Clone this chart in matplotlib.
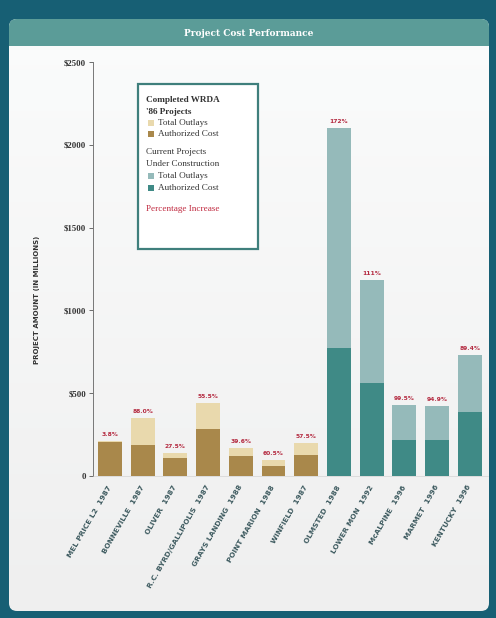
import matplotlib
matplotlib.use("Agg")
import matplotlib.pyplot as plt
from matplotlib.patches import FancyBboxPatch, Rectangle
from matplotlib.colors import LinearSegmentedColormap
import numpy as np

projects = ["MEL PRICE L2  1987", "BONNEVILLE  1987", "OLIVER  1987",
            "R.C. BYRD/GALLIPOLIS  1987", "GRAYS LANDING  1988", "POINT MARION  1988",
            "WINFIELD  1987", "OLMSTED  1988", "LOWER MON  1992", "McALPINE  1996",
            "MARMET  1996", "KENTUCKY  1996"]
authorized = [205, 187, 109, 283, 121, 60, 127, 773, 562, 215, 217, 386]
total_outlays = [213, 352, 139, 440, 169, 97, 200, 2101, 1183, 429, 423, 731]
pct_labels = ["3.8%", "88.0%", "27.5%", "55.5%", "39.6%", "60.5%", "57.5%",
              "172%", "111%", "99.5%", "94.9%", "89.4%"]
completed = [True] * 7 + [False] * 5
yticks = [0, 500, 1000, 1500, 2000, 2500]
ytick_labels = ["0", "$500", "$1000", "$1500", "$2000", "$2500"]

W, H = 496, 618
fig = plt.figure(figsize=(W / 100, H / 100), dpi=100)
fig.patch.set_facecolor("#175f74")

# panel
bg = fig.add_axes([0, 0, 1, 1])
bg.set_xlim(0, W); bg.set_ylim(H, 0); bg.axis("off")
panel = FancyBboxPatch((9, 19), 480, 592, boxstyle="round,pad=0,rounding_size=8",
                       fc="none", ec="none")
bg.add_patch(panel)
cmap = LinearSegmentedColormap.from_list("g", ["#fbfcfc", "#efefef"])
grad = np.linspace(0, 1, 256).reshape(-1, 1)
im = bg.imshow(grad, cmap=cmap, extent=(9, 489, 611, 19), aspect="auto", zorder=0)
im.set_clip_path(panel)
bg.set_xlim(0, W); bg.set_ylim(H, 0)
bg.add_patch(FancyBboxPatch((9, 19), 480, 27, boxstyle="round,pad=0,rounding_size=8",
                            fc="#5b9c98", ec="none", zorder=1))
bg.add_patch(Rectangle((9, 35), 480, 11, fc="#5b9c98", ec="none", zorder=1))
bg.text(249, 33, "Project Cost Performance", color="white", fontsize=6.5,
        fontweight="bold", family="DejaVu Serif", ha="center", va="center", zorder=2)

SERIF = "Liberation Serif"
ax = fig.add_axes([93 / W, 1 - 476 / H, (488 - 93) / W, (476 - 62) / H])
ax.set_facecolor("none")
x = np.arange(len(projects))
for i in x:
    if completed[i]:
        c_tot, c_auth = "#e9d9ad", "#a9884b"
    else:
        c_tot, c_auth = "#95baba", "#3f8a86"
    ax.bar(i, total_outlays[i], width=0.73, color=c_tot, zorder=2)
    ax.bar(i, authorized[i], width=0.73, color=c_auth, zorder=3)
    ax.text(i, total_outlays[i] + 25, pct_labels[i], ha="center", va="bottom",
            fontsize=4.3, fontweight="bold", color="#b42a40", zorder=4)

ax.set_xlim(-0.52, 11.56)
ax.set_ylim(0, 2500)
ax.set_yticks(yticks)
ax.set_yticklabels(ytick_labels, fontsize=6.3, fontweight="bold", family=SERIF, color="#333333")
ax.tick_params(axis="y", length=3, width=0.6, color="#555555", pad=2)
ax.set_xticks(x)
ax.set_xticklabels(projects, rotation=60, rotation_mode="anchor", ha="right", va="center",
                   fontsize=5.3, fontweight="bold", color="#3d5a5f")
ax.tick_params(axis="x", length=0, pad=7)
for s in ["top", "right"]:
    ax.spines[s].set_visible(False)
ax.spines["left"].set_color("#777777"); ax.spines["left"].set_linewidth(0.7)
ax.spines["bottom"].set_color("#cccccc"); ax.spines["bottom"].set_linewidth(0.4)

fig.text(37 / W, 1 - 300 / H, "PROJECT AMOUNT (IN MILLIONS)", rotation=90, ha="center",
         va="center", fontsize=5, fontweight="bold", color="#333333")

# legend box
bg.add_patch(Rectangle((138, 84), 120, 165, fc="white", ec="#3f7f7c", lw=1.6, zorder=5))
lines = [
    ("Completed WRDA", None, "#333333", 100, True),
    ("'86 Projects", None, "#333333", 112, True),
    ("Total Outlays", "#e9d9ad", "#333333", 123, False),
    ("Authorized Cost", "#a9884b", "#333333", 134, False),
    ("Current Projects", None, "#333333", 152, False),
    ("Under Construction", None, "#333333", 164, False),
    ("Total Outlays", "#95baba", "#333333", 176, False),
    ("Authorized Cost", "#3f8a86", "#333333", 188, False),
    ("Percentage Increase", None, "#c0283e", 209, False),
]
for txt, sw, col, yy, bold in lines:
    if sw is None:
        bg.text(146, yy, txt, fontsize=6.6, family=SERIF, color=col, va="center",
                fontweight="bold" if bold else "normal", zorder=6)
    else:
        bg.add_patch(Rectangle((148, yy - 3), 6, 6, fc=sw, ec="none", zorder=6))
        bg.text(158, yy, txt, fontsize=6.6, family=SERIF, color=col, va="center", zorder=6)

fig.savefig("out.png", dpi=100, facecolor=fig.get_facecolor())
